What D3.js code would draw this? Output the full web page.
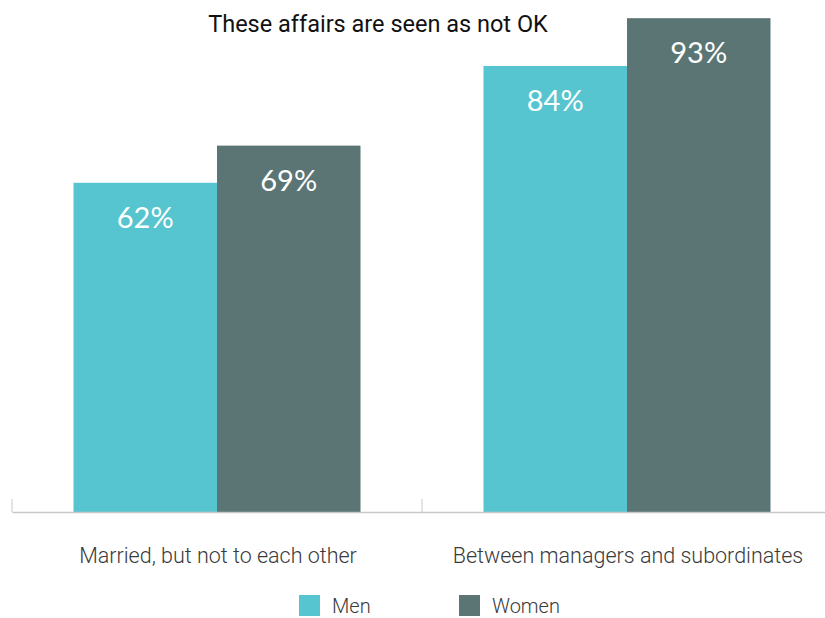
<!DOCTYPE html>
<html>
<head>
<meta charset="utf-8">
<script src="https://cdn.jsdelivr.net/npm/d3@7"></script>
<style>
  body { margin: 0; background: #fff; }
  svg { display: block; }
</style>
</head>
<body>
<svg id="chart" width="825" height="618"></svg>
<script>
const title = "These affairs are seen as not OK";
const categories = ["Married, but not to each other", "Between managers and subordinates"];
const seriesNames = ["Men", "Women"];
const menValues = [62, 84];
const womenValues = [69, 93];
const colors = ["#56c5cf", "#5b7574"];

const svg = d3.select("#chart");
const baseY = 512;

const x0 = d3.scaleBand().domain(categories).range([12, 832]).padding(0);
const x1 = d3.scaleBand().domain(seriesNames)
  .range([x0.bandwidth() * 0.15, x0.bandwidth() * 0.85]).padding(0);
const y = d3.scaleLinear().domain([0, 100]).range([baseY, baseY - 531]);

const data = categories.map((c, i) => ({
  cat: c,
  vals: [
    { s: "Men", v: menValues[i] },
    { s: "Women", v: womenValues[i] }
  ]
}));

const groups = svg.append("g").selectAll("g").data(data).join("g")
  .attr("transform", d => `translate(${x0(d.cat)},0)`);

groups.selectAll("rect").data(d => d.vals).join("rect")
  .attr("x", d => x1(d.s))
  .attr("width", x1.bandwidth())
  .attr("y", d => y(d.v))
  .attr("height", d => y(0) - y(d.v))
  .attr("fill", (d, i) => colors[i]);

groups.selectAll("text.val").data(d => d.vals).join("text")
  .attr("class", "val")
  .attr("x", d => x1(d.s) + x1.bandwidth() / 2)
  .attr("y", d => y(d.v) + 45)
  .attr("text-anchor", "middle")
  .attr("fill", "#fff")
  .style("font-family", "Lato, sans-serif")
  .style("font-size", "29px")
  .text(d => d.v + "%");

// axis
const axis = d3.axisBottom(x0).tickSizeInner(0).tickSizeOuter(0).tickFormat("");
const ag = svg.append("g").attr("transform", `translate(0,${baseY})`).call(axis);
ag.select(".domain").attr("stroke", "#c8c8c8").attr("stroke-width", 1.5);
ag.selectAll(".tick").remove();
const boundaries = [x0.range()[0]].concat(categories.map(c => x0(c) + x0.bandwidth()));
ag.selectAll("line.bound").data(boundaries).join("line")
  .attr("class", "bound")
  .attr("x1", d => d).attr("x2", d => d)
  .attr("y1", -13).attr("y2", 0)
  .attr("stroke", "#c8c8c8").attr("stroke-width", 1);

// category labels
svg.append("g").selectAll("text").data(categories).join("text")
  .attr("x", d => x0(d) + x0.bandwidth() / 2 + 1)
  .attr("y", 563)
  .attr("text-anchor", "middle")
  .attr("fill", "#3a3a3a")
  .style("font-family", "Roboto, sans-serif")
  .style("font-weight", 300)
  .style("font-size", "21.5px")
  .text(d => d);

// title
svg.append("text")
  .attr("x", 378).attr("y", 32)
  .attr("text-anchor", "middle")
  .attr("fill", "#111")
  .style("font-family", "Roboto, sans-serif")
  .style("font-size", "23.5px")
  .text(title);

// legend
const legendX = d3.scaleOrdinal().domain(seriesNames).range([299, 459]);
const lg = svg.append("g").selectAll("g").data(seriesNames).join("g")
  .attr("transform", d => `translate(${legendX(d)},595)`);
lg.append("rect").attr("width", 21).attr("height", 21).attr("fill", (d, i) => colors[i]);
lg.append("text").attr("x", 33).attr("y", 18)
  .attr("fill", "#3a3a3a")
  .style("font-family", "Roboto, sans-serif")
  .style("font-weight", 300)
  .style("font-size", "20px")
  .text(d => d);
</script>
</body>
</html>
